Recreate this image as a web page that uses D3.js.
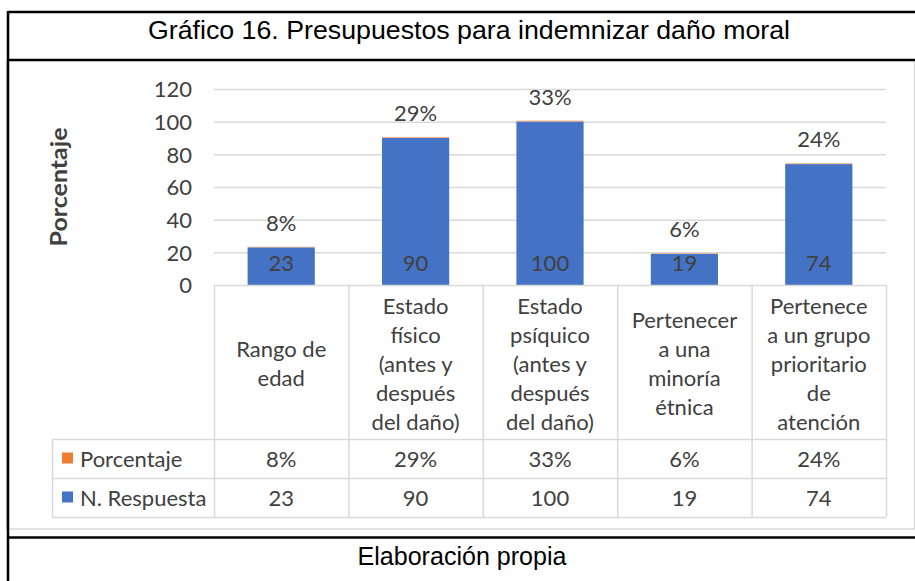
<!DOCTYPE html>
<html>
<head>
<meta charset="utf-8">
<script src="https://cdn.jsdelivr.net/npm/d3@7"></script>
<style>
  html, body { margin: 0; padding: 0; background: #fff; }
  svg { display: block; }
</style>
</head>
<body>
<svg id="chart" width="915" height="581"></svg>
<script>
// ---- Data ----
const title = "Gráfico 16. Presupuestos para indemnizar daño moral";
const footer = "Elaboración propia";
const yAxisTitle = "Porcentaje";
const categories = [
  "Rango de edad",
  "Estado físico (antes y después del daño)",
  "Estado psíquico (antes y después del daño)",
  "Pertenecer a una minoría étnica",
  "Pertenece a un grupo prioritario de atención"
];
const categoryLines = [
  ["Rango de", "edad"],
  ["Estado", "físico", "(antes y", "después", "del daño)"],
  ["Estado", "psíquico", "(antes y", "después", "del daño)"],
  ["Pertenecer", "a una", "minoría", "étnica"],
  ["Pertenece", "a un grupo", "prioritario", "de", "atención"]
];
const seriesNames = ["Porcentaje", "N. Respuesta"];
const respuestas = [23, 90, 100, 19, 74];
const porcentajes = [0.08, 0.29, 0.33, 0.06, 0.24];
const yTicks = [0, 20, 40, 60, 80, 100, 120];

const colors = { "N. Respuesta": "#4472C4", "Porcentaje": "#ED7D31" };
const textColor = "#404040";
const gridColor = "#D9D9D9";
const fontFamily = "Lato, 'Open Sans', sans-serif";
const fs = "22px";

const svg = d3.select("#chart");

// ---- Frame ----
const frame = svg.append("g");
frame.append("rect").attr("x", 6.5).attr("y", 60.5).attr("width", 908).attr("height", 468.5)
  .attr("fill", "none").attr("stroke", gridColor).attr("stroke-width", 1.5);
const black = [[8, 12, 915, 12], [8, 60, 915, 60], [8, 537.5, 915, 537.5], [8, 11, 8, 581]];
frame.selectAll("line.blk").data(black).join("line").attr("class", "blk")
  .attr("x1", d => d[0]).attr("y1", d => d[1]).attr("x2", d => d[2]).attr("y2", d => d[3])
  .attr("stroke", "#000").attr("stroke-width", 2.5);

svg.append("text").attr("x", 469).attr("y", 30).attr("text-anchor", "middle")
  .attr("dominant-baseline", "central")
  .style("font-family", "'Liberation Sans', Arial, sans-serif").style("font-size", "26px")
  .attr("fill", "#000").attr("textLength", 642).attr("lengthAdjust", "spacingAndGlyphs")
  .text(title);

svg.append("text").attr("x", 462).attr("y", 556).attr("text-anchor", "middle")
  .attr("dominant-baseline", "central")
  .style("font-family", "'Liberation Sans', Arial, sans-serif").style("font-size", "26px")
  .attr("fill", "#000").attr("textLength", 209).attr("lengthAdjust", "spacingAndGlyphs")
  .text(footer);

// ---- Scales ----
const plotLeft = 214, plotRight = 886, plotTop = 89, plotBottom = 285;
const x = d3.scaleBand().domain(categories).range([plotLeft, plotRight]).paddingInner(0.5).paddingOuter(0.25);
const y = d3.scaleLinear().domain([0, 120]).range([plotBottom, plotTop]);

svg.append("g").selectAll("line").data(yTicks.filter(t => t > 0)).join("line")
  .attr("x1", plotLeft).attr("x2", plotRight)
  .attr("y1", d => y(d) + 0.5).attr("y2", d => y(d) + 0.5)
  .attr("stroke", gridColor).attr("stroke-width", 1.5);

const yAxis = d3.axisLeft(y).tickValues(yTicks).tickSize(0).tickPadding(0);
const yg = svg.append("g").attr("transform", `translate(192,0)`).call(yAxis);
yg.select(".domain").remove();
yg.selectAll("text").style("font-family", fontFamily).style("font-size", fs)
  .attr("fill", textColor).attr("dy", "0.35em");

svg.append("text").attr("transform", `translate(58,187) rotate(-90)`)
  .attr("text-anchor", "middle").attr("dominant-baseline", "central")
  .style("font-family", fontFamily).style("font-size", "23px").style("font-weight", "bold")
  .attr("fill", textColor).attr("textLength", 119).attr("lengthAdjust", "spacingAndGlyphs")
  .text(yAxisTitle);

// ---- Bars (stacked) ----
const data = categories.map((c, i) => ({ cat: c, resp: respuestas[i], pct: porcentajes[i] }));
const bars = svg.append("g");
bars.selectAll("rect.resp").data(data).join("rect").attr("class", "resp")
  .attr("x", d => x(d.cat)).attr("width", x.bandwidth())
  .attr("y", d => y(d.resp)).attr("height", d => y(0) - y(d.resp))
  .attr("fill", colors["N. Respuesta"]);
bars.selectAll("rect.pct").data(data).join("rect").attr("class", "pct")
  .attr("x", d => x(d.cat)).attr("width", x.bandwidth())
  .attr("y", d => y(d.resp + d.pct) - 0.6).attr("height", d => y(d.resp) - y(d.resp + d.pct) + 0.6)
  .attr("fill", colors["Porcentaje"]).attr("opacity", 0.6);

bars.selectAll("text.resp").data(data).join("text").attr("class", "resp")
  .attr("x", d => x(d.cat) + x.bandwidth() / 2).attr("y", y(0) - 23)
  .attr("text-anchor", "middle").attr("dominant-baseline", "central")
  .style("font-family", fontFamily).style("font-size", fs).attr("fill", textColor)
  .text(d => d.resp);
bars.selectAll("text.pct").data(data).join("text").attr("class", "pct")
  .attr("x", d => x(d.cat) + x.bandwidth() / 2).attr("y", d => y(d.resp + d.pct) - 25)
  .attr("text-anchor", "middle").attr("dominant-baseline", "central")
  .style("font-family", fontFamily).style("font-size", fs).attr("fill", textColor)
  .text(d => Math.round(d.pct * 100) + "%");

// ---- Data table ----
const tableLeft = 52, headerTop = plotBottom, row1Top = 439, row2Top = 478, tableBottom = 517;
const tbl = svg.append("g");
const cellEdges = categories.map(c => x(c) - x.bandwidth() * 0.5);
cellEdges.push(plotRight);
const hLines = [
  [plotLeft, headerTop, plotRight],
  [tableLeft, row1Top, plotRight],
  [tableLeft, row2Top, plotRight],
  [tableLeft, tableBottom, plotRight]
];
tbl.selectAll("line.h").data(hLines).join("line").attr("class", "h")
  .attr("x1", d => d[0]).attr("x2", d => d[2]).attr("y1", d => d[1] + 0.5).attr("y2", d => d[1] + 0.5)
  .attr("stroke", gridColor).attr("stroke-width", 1.5);
tbl.selectAll("line.v").data(cellEdges).join("line").attr("class", "v")
  .attr("x1", d => d + 0.5).attr("x2", d => d + 0.5).attr("y1", headerTop).attr("y2", tableBottom)
  .attr("stroke", gridColor).attr("stroke-width", 1.5);
tbl.append("line").attr("x1", tableLeft + 0.5).attr("x2", tableLeft + 0.5).attr("y1", row1Top).attr("y2", tableBottom)
  .attr("stroke", gridColor).attr("stroke-width", 1.5);

const lineH = 29;
const headerMid = (headerTop + row1Top) / 2 + 1;
categories.forEach((c, i) => {
  const lines = categoryLines[i];
  const cx = x(c) + x.bandwidth() / 2;
  const t = tbl.append("text").attr("text-anchor", "middle")
    .style("font-family", fontFamily).style("font-size", fs).attr("fill", textColor);
  lines.forEach((ln, j) => {
    t.append("tspan").attr("x", cx)
      .attr("y", headerMid + (j - (lines.length - 1) / 2) * lineH)
      .attr("dominant-baseline", "central").text(ln);
  });
});

const rows = [
  { name: "Porcentaje", top: row1Top, values: porcentajes.map(p => Math.round(p * 100) + "%") },
  { name: "N. Respuesta", top: row2Top, values: respuestas.map(String) }
];
rows.forEach(r => {
  const mid = r.top + 19.5;
  tbl.append("rect").attr("x", 62).attr("y", mid - 6).attr("width", 11).attr("height", 11)
    .attr("fill", colors[r.name]);
  tbl.append("text").attr("x", 80).attr("y", mid).attr("dominant-baseline", "central")
    .style("font-family", fontFamily).style("font-size", fs).attr("fill", textColor).text(r.name);
  r.values.forEach((v, i) => {
    tbl.append("text").attr("x", x(categories[i]) + x.bandwidth() / 2).attr("y", mid)
      .attr("text-anchor", "middle").attr("dominant-baseline", "central")
      .style("font-family", fontFamily).style("font-size", fs).attr("fill", textColor).text(v);
  });
});
</script>
</body>
</html>
